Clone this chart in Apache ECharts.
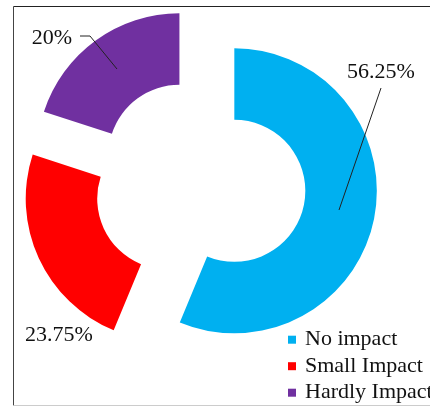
<!DOCTYPE html>
<html><head><meta charset="utf-8">
<script src="https://cdn.jsdelivr.net/npm/echarts@6/dist/echarts.min.js"></script>
<style>html,body{margin:0;padding:0;background:#fff}#c{width:430px;height:407px}</style>
</head><body><div id="c"></div>
<script>
const categories = ['No impact', 'Small Impact', 'Hardly Impact'];
const values = [56.25, 23.75, 20];
const labels = ['56.25%', '23.75%', '20%'];
const colors = ['#00B0F0', '#FF0000', '#7030A0'];

const labelPos = [
  {x: 381, y: 72, line: [[339, 210], [381, 88]]},
  {x: 59, y: 335, line: null},
  {x: 52, y: 38, line: [[117, 69], [90, 36], [80, 36]]}
];

const chart = echarts.init(document.getElementById('c'), null, {renderer: 'canvas'});
const common = {
  type: 'pie',
  center: [200, 184],
  radius: [71, 142.5],
  startAngle: 90,
  clockwise: true,
  emphasis: {disabled: true}
};
chart.setOption({
  animation: false,
  backgroundColor: '#fff',
  graphic: [
    {type: 'line', shape: {x1: 13.5, y1: 6.5, x2: 430, y2: 6.5}, style: {stroke: '#222', lineWidth: 1}},
    {type: 'line', shape: {x1: 13.5, y1: 6.5, x2: 13.5, y2: 405.5}, style: {stroke: '#444', lineWidth: 1}},
    {type: 'line', shape: {x1: 13.5, y1: 405.5, x2: 430, y2: 405.5}, style: {stroke: '#ccc', lineWidth: 1}}
  ],
  legend: {
    orient: 'vertical',
    left: 288,
    top: 328.7,
    height: 150,
    padding: 0,
    icon: 'rect',
    itemWidth: 8,
    itemHeight: 8,
    itemGap: 4.5,
    textStyle: {fontFamily: 'Liberation Serif', fontSize: 22, color: '#111', padding: [0, 0, 0, 4]},
    data: categories,
    selectedMode: false
  },
  series: [
    Object.assign({}, common, {
      selectedMode: 'multiple',
      selectedOffset: 35,
      label: {show: false},
      labelLine: {show: false},
      data: categories.map((c, i) => ({
        name: c, value: values[i], selected: true, itemStyle: {color: colors[i]}
      }))
    }),
    Object.assign({}, common, {
      silent: true,
      selectedMode: false,
      z: 3,
      itemStyle: {color: 'rgba(0,0,0,0)'},
      label: {
        show: true,
        formatter: p => labels[p.dataIndex],
        fontFamily: 'Liberation Serif',
        fontSize: 22,
        color: '#111',
        overflow: 'none'
      },
      labelLine: {show: true, lineStyle: {color: '#222', width: 1}},
      labelLayout: function (params) {
        const lp = labelPos[params.dataIndex];
        const r = {x: lp.x, y: lp.y, align: 'center', verticalAlign: 'middle'};
        if (lp.line) r.labelLinePoints = lp.line;
        return r;
      },
      data: categories.map((c, i) => ({
        name: c, value: values[i],
        labelLine: {show: labelPos[i].line !== null}
      }))
    })
  ]
});
</script></body></html>
